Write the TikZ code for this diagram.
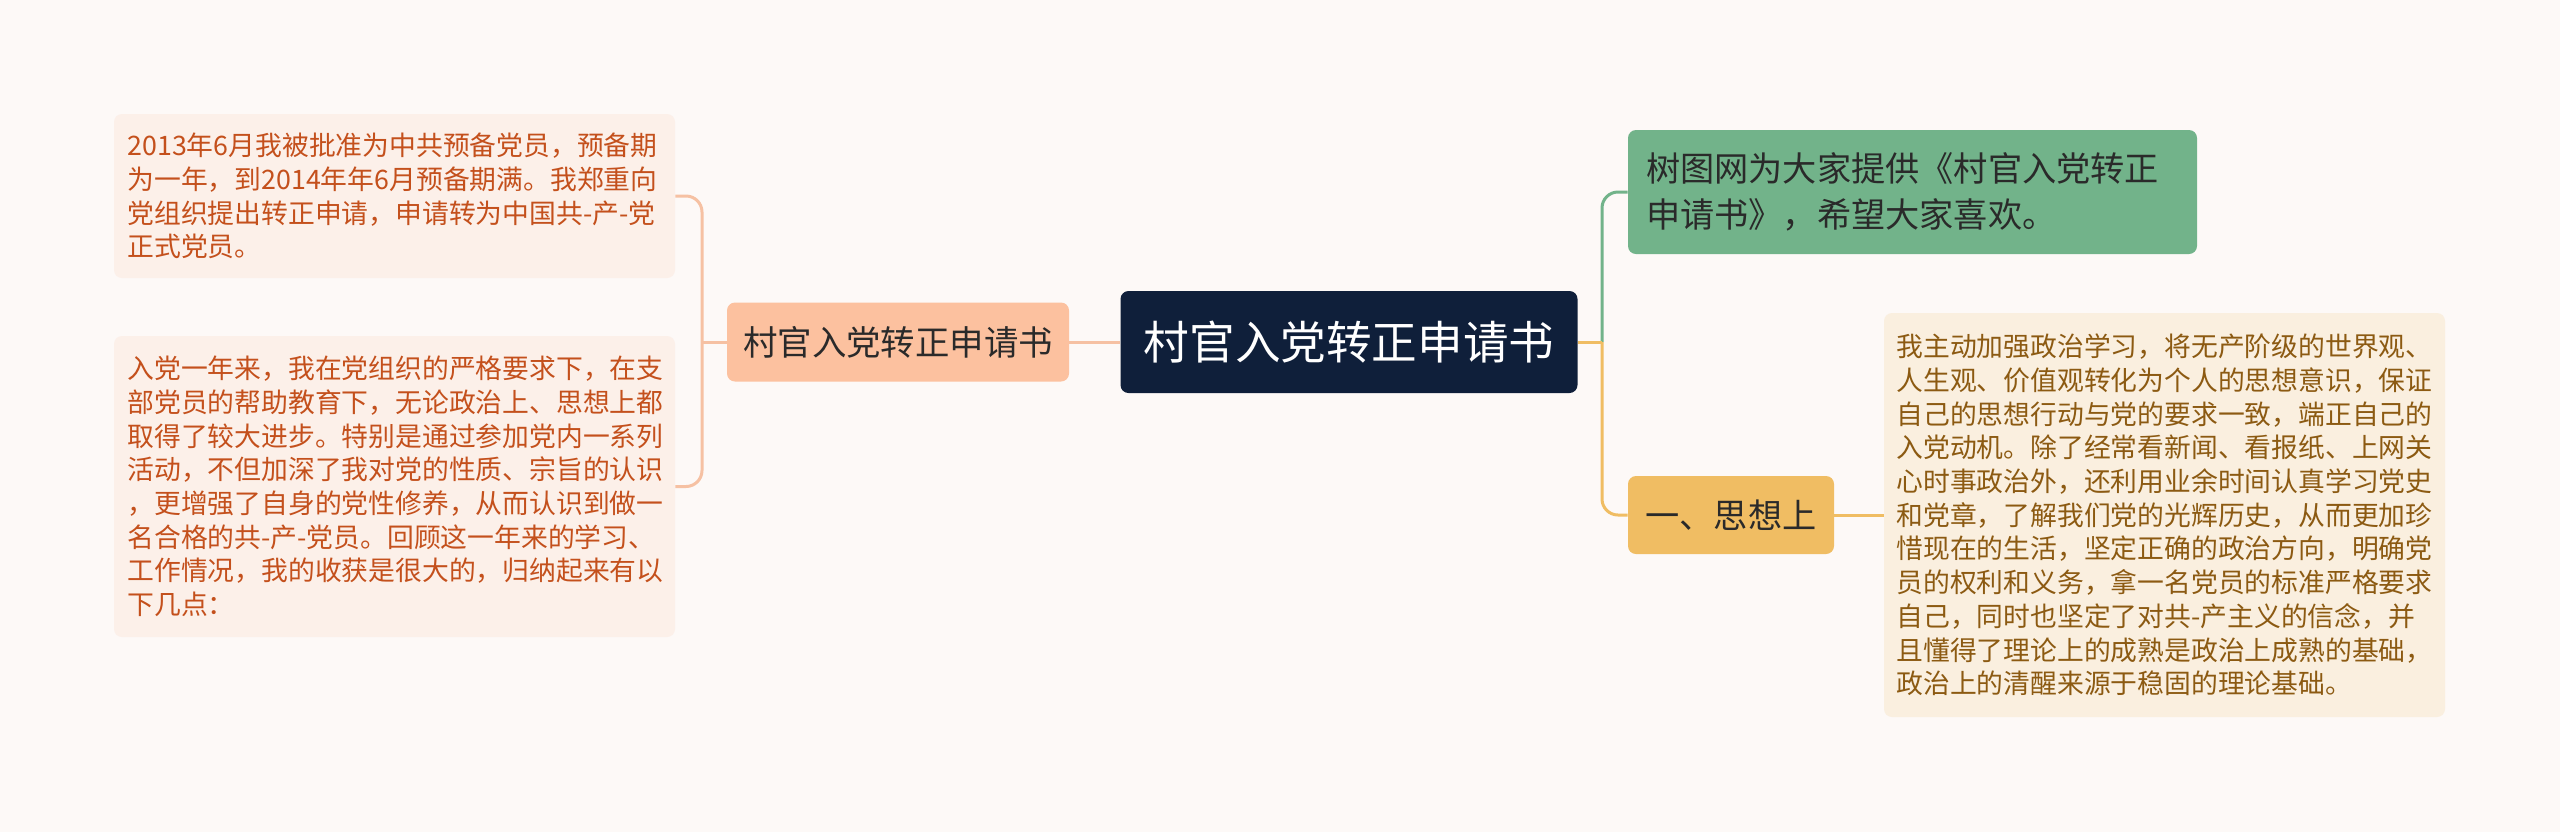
\documentclass[tikz,border=0pt]{standalone}
\usepackage{fontspec}
\setmainfont{Noto Sans CJK SC}
\usepackage{xcolor}
\definecolor{bgpage}{HTML}{FDF9F7}
\definecolor{rootnavy}{HTML}{0F1F3A}
\definecolor{peach}{HTML}{FCC19F}
\definecolor{peachline}{HTML}{F6C1A3}
\definecolor{peachleaf}{HTML}{FCF0E9}
\definecolor{rusttext}{HTML}{C4501C}
\definecolor{sage}{HTML}{72B38A}
\definecolor{honey}{HTML}{F0BD63}
\definecolor{creamleaf}{HTML}{FAEFDF}
\definecolor{ochretext}{HTML}{8C5A12}
\definecolor{inkdark}{HTML}{2A2A2A}

\begin{document}
\begin{tikzpicture}[x=0.5pt, y=-0.5pt, line join=round,
    box/.style={rectangle, rounded corners=4pt, inner sep=0pt, align=center},
    leaftext/.style={font=\fontsize{13.4pt}{16.85pt}\selectfont, align=left},
    midtext/.style={font=\fontsize{17.1pt}{22.9pt}\selectfont},
    conn/.style={line width=1.5pt}]
    % Page and its margins
    \useasboundingbox (0,0) rectangle (2560,832);
    \fill[bgpage] (0,0) rectangle (2560,832);

    \coordinate (busL) at (702, 342);
    \coordinate (busR) at (1602, 342);

    % Root topic
    \node[box, fill=rootnavy, text=white, minimum width=228.5pt, minimum height=51pt,
          font=\fontsize{22.8pt}{27pt}\selectfont] (root) at (1349, 342) {村官入党转正申请书};

    % Left branch and its two leaves
    \node[box, fill=peach, text=inkdark, minimum width=171pt, minimum height=39.5pt,
          font=\fontsize{17.2pt}{20pt}\selectfont] (branchL) at (898, 342) {村官入党转正申请书};
    \node[box, leaftext, fill=peachleaf, text=rusttext, text width=267pt, inner xsep=6.75pt,
          minimum height=82pt] (leafA) at (394.5, 196)
        {2013年6月我被批准为中共预备党员，预备期\\为一年，到2014年年6月预备期满。我郑重向\\党组织提出转正申请，申请转为中国共-产-党\\正式党员。};
    \node[box, leaftext, fill=peachleaf, text=rusttext, text width=267pt, inner xsep=6.75pt,
          minimum height=150.5pt] (leafB) at (394.5, 486.5)
        {入党一年来，我在党组织的严格要求下，在支\\部党员的帮助教育下，无论政治上、思想上都\\取得了较大进步。特别是通过参加党内一系列\\活动，不但加深了我对党的性质、宗旨的认识\\，更增强了自身的党性修养，从而认识到做一\\名合格的共-产-党员。回顾这一年来的学习、\\工作情况，我的收获是很大的，归纳起来有以\\下几点：};

    % Right branches
    \node[box, midtext, fill=sage, text=inkdark, align=left, text width=266.5pt, inner xsep=9pt,
          minimum height=62pt] (green) at (1912.5, 192)
        {树图网为大家提供《村官入党转正\\申请书》，希望大家喜欢。};
    \node[box, midtext, fill=honey, text=inkdark, minimum width=103pt, minimum height=39pt]
        (think) at (1731, 515) {一、思想上};
    \node[box, leaftext, fill=creamleaf, text=ochretext, text width=268pt, inner xsep=6.25pt,
          minimum height=202pt] (leafR) at (2164.5, 515)
        {我主动加强政治学习，将无产阶级的世界观、\\人生观、价值观转化为个人的思想意识，保证\\自己的思想行动与党的要求一致，端正自己的\\入党动机。除了经常看新闻、看报纸、上网关\\心时事政治外，还利用业余时间认真学习党史\\和党章，了解我们党的光辉历史，从而更加珍\\惜现在的生活，坚定正确的政治方向，明确党\\员的权利和义务，拿一名党员的标准严格要求\\自己，同时也坚定了对共-产主义的信念，并\\且懂得了理论上的成熟是政治上成熟的基础，\\政治上的清醒来源于稳固的理论基础。};

    % Connectors, left side
    \draw[conn, peachline] (root.west) -- (branchL.east);
    \draw[conn, peachline] (branchL.west) -- (busL);
    \draw[conn, peachline, rounded corners=8pt] (leafA.east) -| (busL) |- (leafB.east);

    % Connectors, right side
    \draw[conn, sage, rounded corners=8pt] (busR) |- (green.west);
    \draw[conn, honey] (root.east) -- (busR);
    \draw[conn, honey, rounded corners=8pt] (busR) |- (think.west);
    \draw[conn, honey] (think.east) -- (leafR.west);
\end{tikzpicture}
\end{document}
